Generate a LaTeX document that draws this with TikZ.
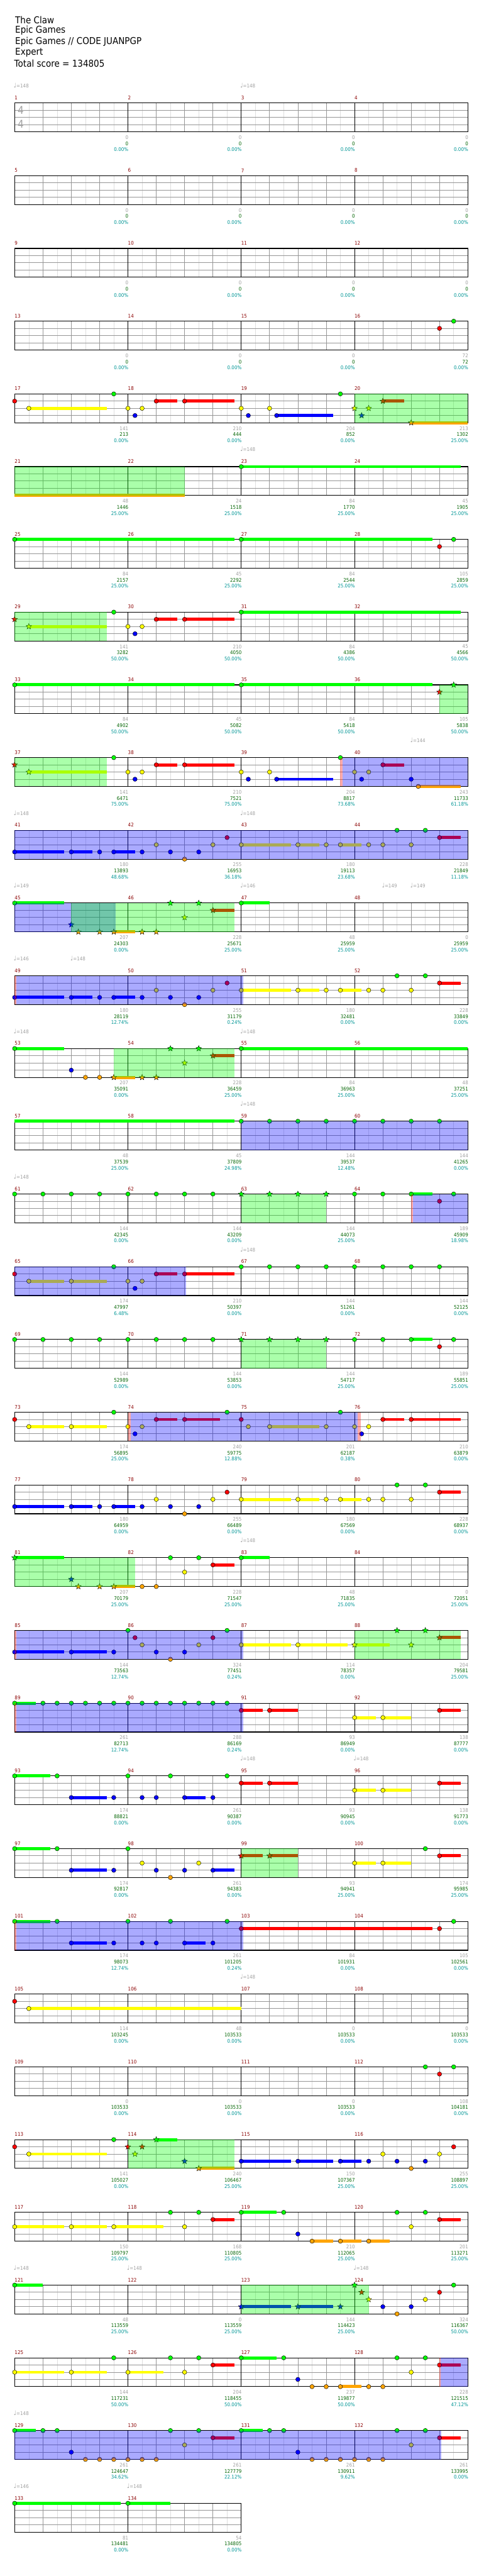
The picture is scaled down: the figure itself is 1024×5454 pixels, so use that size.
\documentclass[tikz,border=0pt]{standalone}
\usepackage{fontspec}
\usepackage{etoolbox}
\setmainfont{DejaVu Sans}[FakeStretch=0.9]
\usetikzlibrary{shapes.geometric}
\definecolor{ng}{RGB}{0,255,0}
\definecolor{nr}{RGB}{255,0,0}
\definecolor{ny}{RGB}{255,255,0}
\definecolor{nb}{RGB}{0,0,255}
\definecolor{no}{RGB}{255,165,0}
\definecolor{mnum}{RGB}{139,0,0}
\definecolor{tgray}{RGB}{160,160,160}
\definecolor{tgreen}{RGB}{0,100,0}
\definecolor{tteal}{RGB}{0,150,150}
\definecolor{gline}{RGB}{150,150,150}
\definecolor{lline}{RGB}{222,222,222}
\newcounter{nid}
\newcommand\lf{\fontsize{7.9}{9}\selectfont}
\newcommand\lanecol[1]{\ifcase#1 ng\or nr\or ny\or nb\or no\fi}
\gdef\Lsus{}\gdef\Lnote{}\gdef\Lover{}
\newcommand\Flush{\Lsus\Lnote\Lover\gdef\Lsus{}\gdef\Lnote{}\gdef\Lover{}}
\newcommand\Row[1]{\Flush\pgfmathsetmacro\rt{218+154*#1}}
% drawing primitives
\newcommand\NtD[2]{\edef\cc{\lanecol{#2}}\filldraw[fill=\cc,draw=black,line width=0.45pt] ({31+60*#1},{\rt+15.25*#2}) circle[radius=4.6];}
\newcommand\StD[2]{\edef\cc{\lanecol{#2}}\stepcounter{nid}\node[starnote,fill=\cc] (s\arabic{nid}) at ({31+60*#1},{\rt+15.25*#2}) {};}
\newcommand\HdD[3]{\edef\cc{\lanecol{#3}}\fill[\cc] ({31+60*#1},{\rt+15.25*#3-3.3}) rectangle ({31+60*#2},{\rt+15.25*#3+3.3});}
\newcommand\OvD[3]{\fill[#3,fill opacity=0.333] ({31+60*#1},\rt) rectangle ({31+60*#2},{\rt+61});}
% deferred commands
\newcommand\Nt[2]{\xappto\Lnote{\noexpand\NtD{#1}{#2}}}
\newcommand\St[2]{\xappto\Lnote{\noexpand\StD{#1}{#2}}}
\newcommand\Hd[3]{\xappto\Lsus{\noexpand\HdD{#1}{#2}{#3}}}
\newcommand\SPr[2]{\xappto\Lover{\noexpand\OvD{#1}{#2}{ng}}}
\newcommand\ACt[2]{\xappto\Lover{\noexpand\OvD{#1}{#2}{nb}}}
\newcommand\PKk[2]{\xappto\Lover{\noexpand\OvD{#1}{#2}{nr}}}
\newcommand\Staff[1]{%
\foreach \k in {1,...,#1}{\draw[lline,line width=0.5] ({31+60*\k-30},\rt) -- ++(0,61);}
\foreach \k in {1,...,#1}{\draw[gline,line width=0.7] ({31+60*\k},\rt) -- ++(0,61);}
\foreach \j in {1,2,3}{\draw[gline,line width=0.9] (31,{\rt+15.25*\j}) -- ({31+60*#1},{\rt+15.25*\j});}
\pgfmathtruncatemacro\nm{#1/4}
\foreach \k in {1,...,\nm}{\draw[black,line width=0.6] ({31+240*\k},\rt) -- ++(0,61);}
\draw[black,line width=1.1] (31,\rt) rectangle ({31+60*#1},{\rt+61});}
\newcommand\Mn[2]{\stepcounter{nid}\node[lbl,mnum,anchor=west] (m\arabic{nid}) at ({31+240*#1},{\rt-11}) {#2};}
\newcommand\Mns[1]{\Mn{0}{#1}\Mn{1}{\the\numexpr#1+1}\Mn{2}{\the\numexpr#1+2}\Mn{3}{\the\numexpr#1+3}}
\newcommand\Tp[2]{\stepcounter{nid}\node[lbl,tgray,anchor=west] (t\arabic{nid}) at ({31+60*#1-2},{\rt-37}) {{\fontsize{10}{10}\selectfont ♩}=#2};}
\newcommand\Lb[4]{\stepcounter{nid}\node[lbl,tgray,anchor=east] (a\arabic{nid}) at ({31+240*(#1+1)+1},{\rt+73}) {#2};
\node[lbl,tgreen,anchor=east] (b\arabic{nid}) at ({31+240*(#1+1)+1},{\rt+86}) {#3};
\node[lbl,tteal,anchor=east] (c\arabic{nid}) at ({31+240*(#1+1)+1},{\rt+99}) {#4\%};}
\newcommand\PatA{\Hd{0}{1.75}{3}\Nt{0}{3}\Hd{2}{2.75}{3}\Nt{2}{3}\Nt{3}{3}\Hd{3.5}{4.25}{3}\Nt{3.5}{3}\Nt{4.5}{3}\Nt{5}{2}\Nt{5.5}{3}\Nt{6}{4}\Nt{6.5}{3}\Nt{7}{2}\Nt{7.5}{1}\Hd{8}{9.75}{2}\Nt{8}{2}\Hd{10}{10.75}{2}\Nt{10}{2}\Nt{11}{2}\Hd{11.5}{12.25}{2}\Nt{11.5}{2}\Nt{12.5}{2}\Nt{13}{2}\Nt{13.5}{0}\Nt{14}{2}\Nt{14.5}{0}\Hd{15}{15.75}{1}\Nt{15}{1}}
\tikzset{lbl/.style={inner sep=0pt,font=\lf},
starnote/.style={star,star points=5,star point ratio=2.3,draw=black,line width=0.4pt,inner sep=0pt,minimum size=9.5pt}}
\begin{document}
\begin{tikzpicture}[x=0.75pt,y=-0.75pt]
\fill[white] (0,0) rectangle (1024,5454);
\useasboundingbox (0,0) rectangle (1024,5454);
\begin{scope}[every node/.style={anchor=west,inner sep=0pt,font=\fontsize{15}{15}\selectfont}]
\node (h1) at (32,42) {The Claw};
\node (h2) at (32,65) {Epic Games};
\node (h3) at (32,88) {Epic Games // CODE JUANPGP};
\node (h4) at (32,111) {Expert};
\node (h5) at (30,134) {Total score = 134805};
\end{scope}
% row 0
\Row{0}\Staff{16}\Mns{1}\Tp{0}{148}\Tp{8}{148}
\node[tgray,inner sep=0pt,font=\fontsize{17}{17}\selectfont] (ts1) at (44,{\rt+16}) {4};
\node[tgray,inner sep=0pt,font=\fontsize{17}{17}\selectfont] (ts2) at (44,{\rt+45}) {4};
\Lb{0}{0}{0}{0.00}\Lb{1}{0}{0}{0.00}\Lb{2}{0}{0}{0.00}\Lb{3}{0}{0}{0.00}
% row 1
\Row{1}\Staff{16}\Mns{5}
\Lb{0}{0}{0}{0.00}\Lb{1}{0}{0}{0.00}\Lb{2}{0}{0}{0.00}\Lb{3}{0}{0}{0.00}
% row 2
\Row{2}\Staff{16}\Mns{9}
\Lb{0}{0}{0}{0.00}\Lb{1}{0}{0}{0.00}\Lb{2}{0}{0}{0.00}\Lb{3}{0}{0}{0.00}
% row 3
\Row{3}\Staff{16}\Mns{13}
\Nt{15}{1}\Nt{15.5}{0}
\Lb{0}{0}{0}{0.00}\Lb{1}{0}{0}{0.00}\Lb{2}{0}{0}{0.00}\Lb{3}{72}{72}{0.00}
% row 4
\Row{4}\Staff{16}\Mns{17}
\Hd{0.5}{3.25}{2}\Hd{5}{5.75}{1}\Hd{6}{7.75}{1}\Hd{9.25}{11.25}{3}\Hd{13}{13.75}{1}\Hd{14}{16}{4}
\Nt{0}{1}\Nt{0.5}{2}\Nt{3.5}{0}\Nt{4}{2}\Nt{4.25}{3}\Nt{4.5}{2}\Nt{5}{1}\Nt{6}{1}\Nt{8}{2}\Nt{8.25}{3}\Nt{9}{2}\Nt{9.25}{3}\Nt{11.5}{0}
\St{12}{2}\St{12.25}{3}\St{12.5}{2}\St{13}{1}\St{14}{4}\SPr{12}{16}
\Lb{0}{141}{213}{0.00}\Lb{1}{210}{444}{0.00}\Lb{2}{204}{852}{0.00}\Lb{3}{213}{1302}{25.00}
% row 5
\Row{5}\Staff{16}\Mns{21}\Tp{8}{148}
\Hd{0}{6}{4}\SPr{0}{6}\Hd{8}{15.75}{0}\Nt{8}{0}
\Lb{0}{48}{1446}{25.00}\Lb{1}{24}{1518}{25.00}\Lb{2}{84}{1770}{25.00}\Lb{3}{45}{1905}{25.00}
% row 6
\Row{6}\Staff{16}\Mns{25}
\Hd{0}{7.75}{0}\Nt{0}{0}\Hd{8}{14.75}{0}\Nt{8}{0}\Nt{15}{1}\Nt{15.5}{0}
\Lb{0}{84}{2157}{25.00}\Lb{1}{45}{2292}{25.00}\Lb{2}{84}{2544}{25.00}\Lb{3}{105}{2859}{25.00}
% row 7
\Row{7}\Staff{16}\Mns{29}
\SPr{0}{3.25}\St{0}{1}\Hd{0.5}{3.25}{2}\St{0.5}{2}\Nt{3.5}{0}\Nt{4}{2}\Nt{4.25}{3}\Nt{4.5}{2}\Hd{5}{5.75}{1}\Nt{5}{1}\Hd{6}{7.75}{1}\Nt{6}{1}\Hd{8}{15.75}{0}\Nt{8}{0}
\Lb{0}{141}{3282}{50.00}\Lb{1}{210}{4050}{50.00}\Lb{2}{84}{4386}{50.00}\Lb{3}{45}{4566}{50.00}
% row 8
\Row{8}\Staff{16}\Mns{33}
\Hd{0}{7.75}{0}\Nt{0}{0}\Hd{8}{14.75}{0}\Nt{8}{0}\SPr{15}{16}\St{15}{1}\St{15.5}{0}
\Lb{0}{84}{4902}{50.00}\Lb{1}{45}{5082}{50.00}\Lb{2}{84}{5418}{50.00}\Lb{3}{105}{5838}{50.00}
% row 9
\Row{9}\Staff{16}\Mns{37}\Tp{14}{144}
\SPr{0}{3.25}\St{0}{1}\Hd{0.5}{3.25}{2}\St{0.5}{2}\Nt{3.5}{0}\Nt{4}{2}\Nt{4.25}{3}\Nt{4.5}{2}\Hd{5}{5.75}{1}\Nt{5}{1}\Hd{6}{7.75}{1}\Nt{6}{1}\Nt{8}{2}\Nt{8.25}{3}\Nt{9}{2}\Hd{9.25}{11.25}{3}\Nt{9.25}{3}\Nt{11.5}{0}
\PKk{11.5}{11.58}\ACt{11.58}{16}\Nt{12}{2}\Nt{12.25}{3}\Nt{12.5}{2}\Hd{13}{13.75}{1}\Nt{13}{1}\Nt{14}{3}\Hd{14.25}{15.75}{4}\Nt{14.25}{4}
\Lb{0}{141}{6471}{75.00}\Lb{1}{210}{7521}{75.00}\Lb{2}{204}{8817}{73.68}\Lb{3}{243}{11733}{61.18}
% row 10
\Row{10}\Staff{16}\Mns{41}\Tp{0}{148}\Tp{8}{148}
\PatA\ACt{0}{16}
\Lb{0}{180}{13893}{48.68}\Lb{1}{255}{16953}{36.18}\Lb{2}{180}{19113}{23.68}\Lb{3}{228}{21849}{11.18}
% row 11
\Row{11}\Staff{16}\Mns{45}\Tp{0}{149}\Tp{8}{146}\Tp{13}{149}\Tp{14}{149}
\ACt{0}{3.56}\SPr{2}{7.75}\Hd{0}{1.75}{0}\Nt{0}{0}\St{2}{3}\St{2.25}{4}\St{3}{4}\Hd{3.5}{4.25}{4}\St{3.5}{4}\St{4.5}{4}\St{5}{4}\St{5.5}{0}\St{6}{2}\St{6.5}{0}\Hd{7}{7.75}{1}\St{7}{1}\Hd{8}{9}{0}\Nt{8}{0}
\Lb{0}{207}{24303}{0.00}\Lb{1}{228}{25671}{25.00}\Lb{2}{48}{25959}{25.00}\Lb{3}{0}{25959}{25.00}
% row 12
\Row{12}\Staff{16}\Mns{49}\Tp{0}{146}\Tp{2}{148}
\PatA\PKk{0}{0.07}\ACt{0.07}{8.07}
\Lb{0}{180}{28119}{12.74}\Lb{1}{255}{31179}{0.24}\Lb{2}{180}{32481}{0.00}\Lb{3}{228}{33849}{0.00}
% row 13
\Row{13}\Staff{16}\Mns{53}\Tp{0}{148}\Tp{8}{148}
\Hd{0}{1.75}{0}\Nt{0}{0}\Nt{2}{3}\Nt{2.5}{4}\Nt{3}{4}\SPr{3.5}{7.75}\Hd{3.5}{4.25}{4}\St{3.5}{4}\St{4.5}{4}\St{5}{4}\St{5.5}{0}\St{6}{2}\St{6.5}{0}\Hd{7}{7.75}{1}\St{7}{1}\Hd{8}{16}{0}\Nt{8}{0}
\Lb{0}{207}{35091}{0.00}\Lb{1}{228}{36459}{25.00}\Lb{2}{84}{36963}{25.00}\Lb{3}{48}{37251}{25.00}
% row 14
\Row{14}\Staff{16}\Mns{57}\Tp{8}{148}
\Hd{0}{7.75}{0}\foreach \b in {8,...,15}{\Nt{\b}{0}}\ACt{8}{16}
\Lb{0}{48}{37539}{25.00}\Lb{1}{45}{37809}{24.98}\Lb{2}{144}{39537}{12.48}\Lb{3}{144}{41265}{0.00}
% row 15
\Row{15}\Staff{16}\Mns{61}\Tp{0}{148}
\foreach \b in {0,...,7}{\Nt{\b}{0}}\SPr{8}{11}\foreach \b in {8,...,11}{\St{\b}{0}}
\Nt{12}{0}\Nt{13}{0}\Hd{14}{14.75}{0}\Nt{14}{0}\PKk{14}{14.06}\ACt{14.06}{16}\Nt{15}{1}\Nt{15.5}{0}
\Lb{0}{144}{42345}{0.00}\Lb{1}{144}{43209}{0.00}\Lb{2}{144}{44073}{25.00}\Lb{3}{189}{45909}{18.98}
% row 16
\Row{16}\Staff{16}\Mns{65}\Tp{8}{148}
\ACt{0}{6.05}\Nt{0}{1}\Hd{0.5}{1.75}{2}\Nt{0.5}{2}\Hd{2}{3.25}{2}\Nt{2}{2}\Nt{3.5}{0}\Nt{4}{2}\Nt{4.25}{3}\Nt{4.5}{2}\Hd{5}{5.75}{1}\Nt{5}{1}\Hd{6}{7.75}{1}\Nt{6}{1}\foreach \b in {8,...,15}{\Nt{\b}{0}}
\Lb{0}{174}{47997}{6.48}\Lb{1}{210}{50397}{0.00}\Lb{2}{144}{51261}{0.00}\Lb{3}{144}{52125}{0.00}
% row 17
\Row{17}\Staff{16}\Mns{69}
\foreach \b in {0,...,7}{\Nt{\b}{0}}\SPr{8}{11}\foreach \b in {8,...,11}{\St{\b}{0}}
\Nt{12}{0}\Nt{13}{0}\Hd{14}{14.75}{0}\Nt{14}{0}\Nt{15}{1}\Nt{15.5}{0}
\Lb{0}{144}{52989}{0.00}\Lb{1}{144}{53853}{0.00}\Lb{2}{144}{54717}{25.00}\Lb{3}{189}{55851}{25.00}
% row 18
\Row{18}\Staff{16}\Mns{73}
\Nt{0}{1}\Hd{0.5}{1.75}{2}\Nt{0.5}{2}\Hd{2}{3.25}{2}\Nt{2}{2}\Nt{3.5}{0}\PKk{4}{4.1}\ACt{4.1}{12.1}\PKk{12.1}{12.23}
\Nt{4}{2}\Nt{4.25}{3}\Nt{4.5}{2}\Hd{5}{5.75}{1}\Nt{5}{1}\Hd{6}{7.25}{1}\Nt{6}{1}\Nt{7.5}{0}\Nt{8}{1}\Nt{8.25}{2}\Hd{9}{10.75}{2}\Nt{9}{2}\Nt{11}{2}\Nt{11.5}{0}\Nt{12}{2}\Nt{12.25}{3}\Nt{12.5}{2}\Hd{13}{13.75}{1}\Nt{13}{1}\Hd{14}{15.75}{1}\Nt{14}{1}
\Lb{0}{174}{56895}{25.00}\Lb{1}{240}{59775}{12.88}\Lb{2}{201}{62187}{0.38}\Lb{3}{210}{63879}{0.00}
% row 19
\Row{19}\Staff{16}\Mns{77}
\PatA
\Lb{0}{180}{64959}{0.00}\Lb{1}{255}{66489}{0.00}\Lb{2}{180}{67569}{0.00}\Lb{3}{228}{68937}{0.00}
% row 20
\Row{20}\Staff{16}\Mns{81}\Tp{8}{148}
\SPr{0}{4.25}\Hd{0}{1.75}{0}\St{0}{0}\St{2}{3}\St{2.25}{4}\St{3}{4}\Hd{3.5}{4.25}{4}\St{3.5}{4}\Nt{4.5}{4}\Nt{5}{4}\Nt{5.5}{0}\Nt{6}{2}\Nt{6.5}{0}\Hd{7}{7.75}{1}\Nt{7}{1}\Hd{8}{9}{0}\Nt{8}{0}
\Lb{0}{207}{70179}{25.00}\Lb{1}{228}{71547}{25.00}\Lb{2}{48}{71835}{25.00}\Lb{3}{0}{72051}{25.00}
% row 21
\Row{21}\Staff{16}\Mns{85}
\PKk{0}{0.07}\ACt{0.07}{8.07}\Hd{0}{1.75}{3}\Nt{0}{3}\Hd{2}{3.25}{3}\Nt{2}{3}\Nt{3.5}{3}\Nt{4}{0}\Nt{4.25}{1}\Nt{4.5}{2}\Nt{5}{3}\Nt{5.5}{4}\Nt{6}{3}\Nt{6.5}{2}\Nt{7}{1}\Nt{7.5}{0}\Hd{8}{9.75}{2}\Nt{8}{2}\Hd{10}{11.75}{2}\Nt{10}{2}
\SPr{12}{15.75}\Hd{12}{13.25}{2}\St{12}{2}\St{13.5}{0}\St{14}{2}\St{14.5}{0}\Hd{15}{15.75}{1}\St{15}{1}
\Lb{0}{144}{73563}{12.74}\Lb{1}{324}{77451}{0.24}\Lb{2}{114}{78357}{0.00}\Lb{3}{204}{79581}{25.00}
% row 22
\Row{22}\Staff{16}\Mns{89}
\PKk{0}{0.07}\ACt{0.07}{8.07}\Hd{0}{0.75}{0}\Nt{0}{0}\foreach \b in {1,1.5,...,7.5}{\Nt{\b}{0}}\Hd{8}{8.75}{1}\Nt{8}{1}\Hd{9}{10}{1}\Nt{9}{1}\Hd{12}{12.75}{2}\Nt{12}{2}\Hd{13}{14}{2}\Nt{13}{2}\Hd{15}{15.75}{1}\Nt{15}{1}
\Lb{0}{261}{82713}{12.74}\Lb{1}{288}{86169}{0.24}\Lb{2}{93}{86949}{0.00}\Lb{3}{138}{87777}{0.00}
% row 23
\Row{23}\Staff{16}\Mns{93}\Tp{8}{148}\Tp{12}{148}
\Hd{0}{1.25}{0}\Nt{0}{0}\Nt{1.5}{0}\Hd{2}{3.25}{3}\Nt{2}{3}\Nt{3.5}{3}\Nt{4}{0}\Nt{4.5}{3}\Nt{5}{3}\Nt{5.5}{0}\Hd{6}{6.75}{3}\Nt{6}{3}\Nt{7}{3}\Nt{7.5}{0}\Hd{8}{8.75}{1}\Nt{8}{1}\Hd{9}{10}{1}\Nt{9}{1}\Hd{12}{12.75}{2}\Nt{12}{2}\Hd{13}{14}{2}\Nt{13}{2}\Hd{15}{15.75}{1}\Nt{15}{1}
\Lb{0}{174}{88821}{0.00}\Lb{1}{261}{90387}{0.00}\Lb{2}{93}{90945}{0.00}\Lb{3}{138}{91773}{0.00}
% row 24
\Row{24}\Staff{16}\Mns{97}
\Hd{0}{1.25}{0}\Nt{0}{0}\Nt{1.5}{0}\Hd{2}{3.25}{3}\Nt{2}{3}\Nt{3.5}{3}\Nt{4}{0}\Nt{4.5}{2}\Nt{5}{3}\Nt{5.5}{4}\Nt{6}{3}\Nt{6.5}{2}\Hd{7}{7.75}{3}\Nt{7}{3}\SPr{8}{10}\Hd{8}{8.75}{1}\St{8}{1}\Hd{9}{10}{1}\St{9}{1}\Hd{12}{12.75}{2}\Nt{12}{2}\Hd{13}{14}{2}\Nt{13}{2}\Nt{14.5}{0}\Hd{15}{15.75}{1}\Nt{15}{1}
\Lb{0}{174}{92817}{0.00}\Lb{1}{261}{94383}{0.00}\Lb{2}{93}{94941}{25.00}\Lb{3}{174}{95985}{25.00}
% row 25
\Row{25}\Staff{16}\Mns{101}
\PKk{0}{0.07}\ACt{0.07}{8.07}\Hd{0}{1.25}{0}\Nt{0}{0}\Nt{1.5}{0}\Hd{2}{3.25}{3}\Nt{2}{3}\Nt{3.5}{3}\Nt{4}{0}\Nt{4.5}{3}\Nt{5}{3}\Nt{5.5}{0}\Hd{6}{6.75}{3}\Nt{6}{3}\Nt{7}{3}\Nt{7.5}{0}\Hd{8}{14.75}{1}\Nt{8}{1}\Nt{15}{1}\Nt{15.5}{0}
\Lb{0}{174}{98073}{12.74}\Lb{1}{261}{101205}{0.24}\Lb{2}{84}{101931}{0.00}\Lb{3}{105}{102561}{0.00}
% row 26
\Row{26}\Staff{16}\Mns{105}\Tp{8}{148}
\Nt{0}{1}\Hd{0.5}{8}{2}\Nt{0.5}{2}
\Lb{0}{114}{103245}{0.00}\Lb{1}{48}{103533}{0.00}\Lb{2}{0}{103533}{0.00}\Lb{3}{0}{103533}{0.00}
% row 27
\Row{27}\Staff{16}\Mns{109}
\Nt{14.5}{0}\Nt{15}{1}\Nt{15.5}{0}
\Lb{0}{0}{103533}{0.00}\Lb{1}{0}{103533}{0.00}\Lb{2}{0}{103533}{0.00}\Lb{3}{108}{104181}{0.00}
% row 28
\Row{28}\Staff{16}\Mns{113}
\Nt{0}{1}\Hd{0.5}{3.25}{2}\Nt{0.5}{2}\Nt{3.5}{0}\SPr{4}{7.75}\St{4}{1}\St{4.25}{2}\St{4.5}{1}\Hd{5}{5.75}{0}\St{5}{0}\St{6}{3}\Hd{6.5}{7.75}{4}\St{6.5}{4}
\Hd{8}{9.75}{3}\Nt{8}{3}\Hd{10}{11.25}{3}\Nt{10}{3}\Hd{11.5}{12.25}{3}\Nt{11.5}{3}\Nt{12.5}{3}\Nt{13}{2}\Nt{13.5}{3}\Nt{14}{4}\Nt{14.5}{3}\Nt{15}{2}\Nt{15.5}{1}
\Lb{0}{141}{105027}{0.00}\Lb{1}{240}{106467}{25.00}\Lb{2}{150}{107367}{25.00}\Lb{3}{255}{108897}{25.00}
% row 29
\Row{29}\Staff{16}\Mns{117}
\Hd{0}{1.75}{2}\Nt{0}{2}\Hd{2}{3.25}{2}\Nt{2}{2}\Hd{3.5}{5.25}{2}\Nt{3.5}{2}\Nt{5.5}{0}\Nt{6}{2}\Nt{6.5}{0}\Hd{7}{7.75}{1}\Nt{7}{1}\Hd{8}{9.25}{0}\Nt{8}{0}\Nt{9.5}{0}\Nt{10}{3}\Hd{10.5}{11.25}{4}\Nt{10.5}{4}\Hd{11.5}{12.25}{4}\Nt{11.5}{4}\Hd{12.5}{13.25}{4}\Nt{12.5}{4}\Nt{13.5}{0}\Nt{14}{2}\Nt{14.5}{0}\Hd{15}{15.75}{1}\Nt{15}{1}
\Lb{0}{150}{109797}{25.00}\Lb{1}{168}{110805}{25.00}\Lb{2}{210}{112065}{25.00}\Lb{3}{201}{113271}{25.00}
% row 30
\Row{30}\Staff{16}\Mns{121}\Tp{0}{148}\Tp{4}{148}\Tp{12}{148}
\Hd{0}{1}{0}\Nt{0}{0}\SPr{8}{12.5}\Hd{8}{9.75}{3}\St{8}{3}\Hd{10}{11.25}{3}\St{10}{3}\St{11.5}{3}\St{12}{0}\St{12.25}{1}\St{12.5}{2}\Nt{13}{3}\Nt{13.5}{4}\Nt{14}{3}\Nt{14.5}{2}\Nt{15}{1}\Nt{15.5}{0}
\Lb{0}{48}{113559}{25.00}\Lb{1}{0}{113559}{25.00}\Lb{2}{144}{114423}{25.00}\Lb{3}{324}{116367}{50.00}
% row 31
\Row{31}\Staff{16}\Mns{125}
\Hd{0}{1.75}{2}\Nt{0}{2}\Hd{2}{3.25}{2}\Nt{2}{2}\Nt{3.5}{0}\Hd{4}{5.25}{2}\Nt{4}{2}\Nt{5.5}{0}\Nt{6}{2}\Nt{6.5}{0}\Hd{7}{7.75}{1}\Nt{7}{1}\Hd{8}{9.25}{0}\Nt{8}{0}\Nt{9.5}{0}\Nt{10}{3}\Nt{10.5}{4}\Nt{11}{4}\Hd{11.5}{12.25}{4}\Nt{11.5}{4}\Nt{12.5}{4}\Nt{13}{4}\Nt{13.5}{0}\Nt{14}{2}\Nt{14.5}{0}\PKk{15}{15.05}\ACt{15.05}{16}\Hd{15}{15.75}{1}\Nt{15}{1}
\Lb{0}{144}{117231}{50.00}\Lb{1}{204}{118455}{50.00}\Lb{2}{237}{119877}{50.00}\Lb{3}{228}{121515}{47.12}
% row 32
\Row{32}\Staff{16}\Mns{129}\Tp{0}{148}
\ACt{0}{15.06}\Hd{0}{0.75}{0}\Nt{0}{0}\Nt{1}{0}\Nt{1.5}{0}\Nt{2}{3}\foreach \b in {2.5,3,...,5}{\Nt{\b}{4}}\Nt{5.5}{0}\Nt{6}{2}\Nt{6.5}{0}\Hd{7}{7.75}{1}\Nt{7}{1}
\Hd{8}{8.75}{0}\Nt{8}{0}\Nt{9}{0}\Nt{9.5}{0}\Nt{10}{3}\foreach \b in {10.5,11,...,13}{\Nt{\b}{4}}\Nt{13.5}{0}\Nt{14}{2}\Nt{14.5}{0}\Hd{15}{15.75}{1}\Nt{15}{1}
\Lb{0}{261}{124647}{34.62}\Lb{1}{261}{127779}{22.12}\Lb{2}{261}{130911}{9.62}\Lb{3}{261}{133995}{0.00}
% row 33
\Row{33}\Staff{8}\Mn{0}{133}\Mn{1}{134}\Tp{0}{146}\Tp{4}{148}
\Hd{0}{3.75}{0}\Nt{0}{0}\Hd{4}{5.5}{0}\Nt{4}{0}
\Lb{0}{81}{134481}{0.00}\Lb{1}{54}{134805}{0.00}
\Flush
\end{tikzpicture}
\end{document}
